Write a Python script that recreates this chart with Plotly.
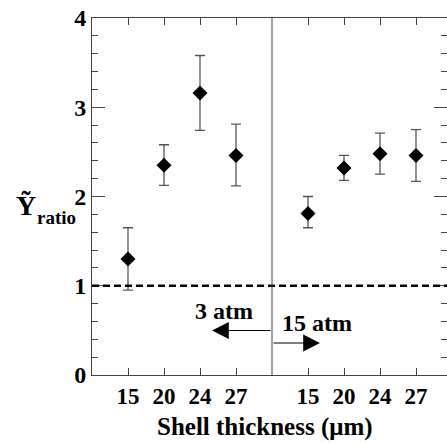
import plotly.graph_objects as go

# ---- data ----
thickness_labels = ["15", "20", "24", "27"]          # shell thickness (µm)
low_p_vals = [1.30, 2.35, 3.16, 2.46]                 # 3 atm
low_p_upper = [1.65, 2.58, 3.58, 2.81]
low_p_lower = [0.95, 2.125, 2.74, 2.12]
high_p_vals = [1.81, 2.32, 2.48, 2.46]                # 15 atm
high_p_upper = [2.00, 2.46, 2.71, 2.75]
high_p_lower = [1.65, 2.18, 2.25, 2.17]
pressure_labels = ["3 atm", "15 atm"]
y_ticks = [0, 1, 2, 3, 4]
reference_level = 1

FONT = "Liberation Serif"
AX = "#444444"

left_x = [1, 2, 3, 4]
right_x = [6, 7, 8, 9]
divider_x = 5

fig = go.Figure()

def add_series(xs, vals, up, lo):
    fig.add_trace(go.Scatter(
        x=xs, y=vals, mode="markers",
        marker=dict(symbol="diamond", size=11.5, color="black"),
        error_y=dict(type="data", symmetric=False,
                     array=[u - v for u, v in zip(up, vals)],
                     arrayminus=[v - l for v, l in zip(vals, lo)],
                     color="#555555", thickness=1.3, width=5),
        showlegend=False, hoverinfo="skip"))

add_series(left_x, low_p_vals, low_p_upper, low_p_lower)
add_series(right_x, high_p_vals, high_p_upper, high_p_lower)

# invisible trace to create the right-hand tick axis
fig.add_trace(go.Scatter(x=[0], y=[0], yaxis="y2", mode="markers",
                         marker=dict(opacity=0), showlegend=False, hoverinfo="skip"))

fig.update_layout(
    width=447, height=443,
    margin=dict(l=92, r=0, t=18, b=68, autoexpand=False),
    paper_bgcolor="white", plot_bgcolor="white",
    hovermode=False,
    xaxis=dict(range=[0, 355 / 36], tickvals=left_x + right_x,
               ticktext=thickness_labels * 2, automargin=False,
               ticks="inside", ticklen=7, tickcolor=AX, tickwidth=1,
               showline=True, linecolor=AX, linewidth=1, mirror="ticks",
               showgrid=False, zeroline=False,
               tickfont=dict(family=FONT, size=23, color="black", weight="bold")),
    yaxis=dict(range=[0, 4], tickvals=y_ticks, automargin=False,
               ticks="inside", ticklen=13, tickcolor=AX, tickwidth=1,
               minor=dict(dtick=0.2, ticks="inside", ticklen=6, tickcolor=AX, showgrid=False),
               showline=True, linecolor=AX, linewidth=1,
               showgrid=False, zeroline=False,
               tickfont=dict(family=FONT, size=24, color="black", weight="bold")),
    yaxis2=dict(range=[0, 4], overlaying="y", side="right", tickvals=y_ticks,
                automargin=False,
                ticks="inside", ticklen=13, tickcolor=AX, tickwidth=1,
                minor=dict(dtick=0.2, ticks="inside", ticklen=6, tickcolor=AX, showgrid=False),
                showline=False, showgrid=False, zeroline=False, showticklabels=False),
)

fig.add_shape(type="line", xref="paper", yref="y", x0=0, x1=1,
              y0=reference_level, y1=reference_level,
              line=dict(color="black", width=2.5, dash="7px,4px"))
fig.add_shape(type="line", xref="x", yref="paper", x0=divider_x, x1=divider_x,
              y0=0, y1=1, line=dict(color=AX, width=1))

def px2x(px):
    return (px - 92) / 36.0

def py2y(py):
    return (375 - py) / 89.25

def label(x, y, text, size, xref="paper", yref="paper"):
    fig.add_annotation(x=x, y=y, xref=xref, yref=yref, text=text, showarrow=False,
                       xanchor="center", yanchor="middle",
                       font=dict(family=FONT, size=size, color="black", weight="bold"))

# pressure labels
label(px2x(223.5), py2y(310.5), pressure_labels[0], 24, "x", "y")
label(px2x(317), py2y(322.5), pressure_labels[1], 24, "x", "y")

# arrows
fig.add_annotation(x=px2x(212), y=py2y(330.5), ax=divider_x, ay=py2y(330.5),
                   xref="x", yref="y", axref="x", ayref="y", text="",
                   showarrow=True, arrowhead=2, arrowsize=2.8, arrowwidth=1.2,
                   arrowcolor="black")
fig.add_annotation(x=px2x(320), y=py2y(343), ax=divider_x, ay=py2y(343),
                   xref="x", yref="y", axref="x", ayref="y", text="",
                   showarrow=True, arrowhead=2, arrowsize=2.8, arrowwidth=1.2,
                   arrowcolor="black")

# axis titles
label((264.5 - 92) / 355, (375 - 426.7) / 357, "Shell thickness (μm)", 25)
label((26 - 92) / 355, (375 - 205) / 357, "Ỹ", 28)
label((56 - 92) / 355, (375 - 217.5) / 357, "ratio", 19)

fig.write_html("out.html", config={"displayModeBar": False, "staticPlot": True},
               post_script="document.body.style.margin='0';document.body.style.overflow='hidden';")
